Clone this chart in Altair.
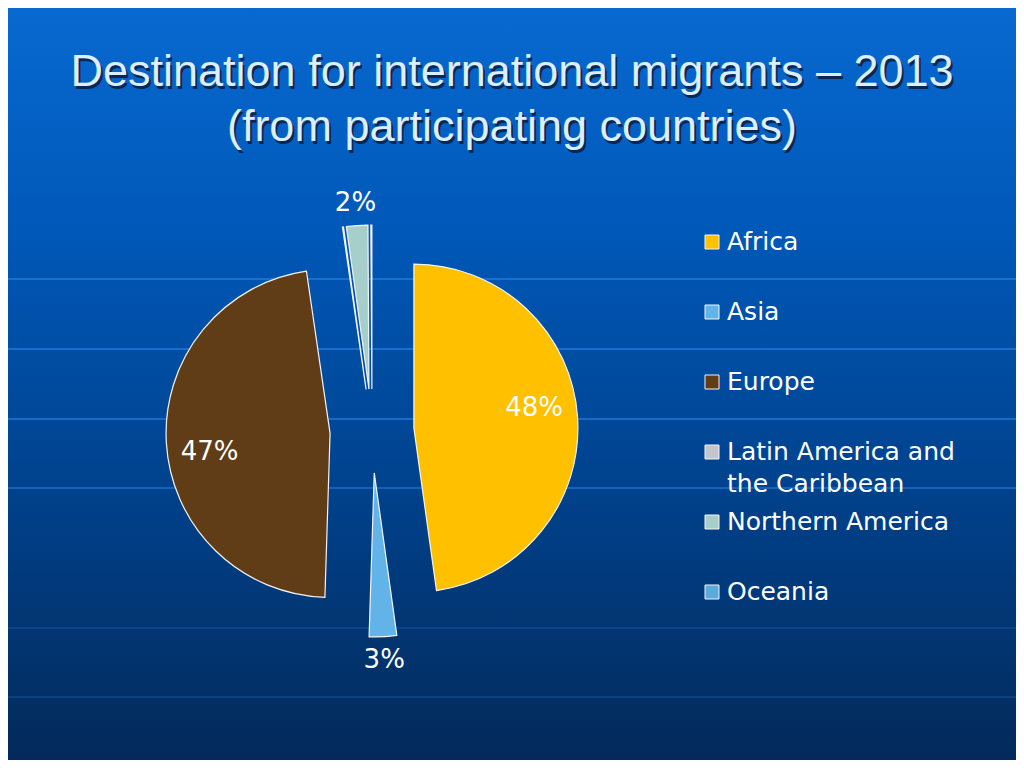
import altair as alt
import pandas as pd

# ---- data ----
regions = ["Africa", "Asia", "Europe", "Latin America and the Caribbean", "Northern America", "Oceania"]
legend_labels = ["Africa", "Asia", "Europe", "Latin America and\nthe Caribbean", "Northern America", "Oceania"]
shares = [47.8, 2.7, 47.2, 0.1, 2.1, 0.1]
colors = ["#FFC000", "#62B4E8", "#603D16", "#C4C4CC", "#A6CECB", "#5AAADC"]
title_lines = ["Destination for international migrants \u2013 2013", "(from participating countries)"]

# ---- layout (style) ----
W, H = 1008, 752
CX, CY = 364, 423          # pie centre inside the canvas
R = 164                    # pie radius
EXPLODE = 42               # explosion distance
LEG_X_SYM, LEG_X_TXT = 340, 355
LEG_TOP, LEG_STEP = 189, 70
LINE_H = 32

df = pd.DataFrame({"region": regions, "legend": legend_labels,
                   "share": shares, "order": list(range(len(regions)))})

xs = alt.Scale(domain=[-CX, W - CX], nice=False, zero=False)
ys = alt.Scale(domain=[-(H - CY), CY], nice=False, zero=False)
cscale = alt.Scale(domain=regions, range=colors)

# background gradient
bg = alt.Chart(pd.DataFrame({"a": [0]})).mark_rect(
    fill=alt.Gradient(
        gradient="linear",
        stops=[alt.GradientStop(color="#0869D0", offset=0),
               alt.GradientStop(color="#0058B8", offset=0.3),
               alt.GradientStop(color="#00438F", offset=0.62),
               alt.GradientStop(color="#032A5A", offset=1)],
        x1=0, x2=0, y1=0, y2=1),
).encode(x=alt.value(0), x2=alt.value(W), y=alt.value(0), y2=alt.value(H))

grid_layers = []
for gy, op in [(271, 0.7), (341, 0.7), (411, 0.7), (480, 0.6), (620, 0.25), (689, 0.25)]:
    grid_layers.append(
        alt.Chart(pd.DataFrame({"a": [0]})).mark_rule(color="#2C8BF0", strokeWidth=1.5, opacity=op)
        .encode(x=alt.value(0), x2=alt.value(W), y=alt.value(gy))
    )

base = (
    alt.Chart(df)
    .transform_joinaggregate(total="sum(share)")
    .transform_window(cum="sum(share)", sort=[alt.SortField("order")], frame=[None, 0])
    .transform_calculate(start="2*PI*(datum.cum - datum.share)/datum.total",
                         end="2*PI*datum.cum/datum.total")
    .transform_calculate(mid="(datum.start + datum.end)/2")
    .transform_calculate(cx=f"{EXPLODE}*sin(datum.mid)", cy=f"{EXPLODE}*cos(datum.mid)")
)

arcs = base.mark_arc(radius=R, stroke="#F4F4F4", strokeWidth=1.2).encode(
    x=alt.X("cx:Q", scale=xs, axis=None),
    y=alt.Y("cy:Q", scale=ys, axis=None),
    theta=alt.Theta("start:Q", scale=None, stack=False),
    theta2="end:Q",
    color=alt.Color("region:N", scale=cscale, legend=None),
)

labels = (
    base.transform_filter("datum.share >= 1")
    .transform_calculate(
        la="datum.mid - (datum.share >= 10 ? 0.1 : 0)",
        lr=f"datum.share >= 10 ? 122 : {R + 23}",
        label="format(datum.share/datum.total, '.0%')",
    )
    .transform_calculate(lx="datum.cx + datum.lr*sin(datum.la)",
                         ly="datum.cy + datum.lr*cos(datum.la)")
    .mark_text(font="DejaVu Sans", fontSize=26, color="white")
    .encode(x=alt.X("lx:Q", scale=xs, axis=None),
            y=alt.Y("ly:Q", scale=ys, axis=None),
            text="label:N")
)

leg_base = alt.Chart(df).transform_calculate(
    ly=f"{LEG_TOP} - {LEG_STEP}*datum.order",
    sx=f"{LEG_X_SYM}", tx=f"{LEG_X_TXT}",
)

leg_sym = leg_base.mark_point(shape="square", filled=True, size=196, stroke="#F4F4F4",
                              strokeWidth=1, opacity=1).encode(
    x=alt.X("sx:Q", scale=xs, axis=None),
    y=alt.Y("ly:Q", scale=ys, axis=None),
    fill=alt.Fill("region:N", scale=cscale, legend=None),
)

leg_txt = leg_base.mark_text(font="DejaVu Sans", fontSize=25, color="white", align="left",
                             baseline="middle", lineBreak="\n", lineHeight=LINE_H).encode(
    x=alt.X("tx:Q", scale=xs, axis=None),
    y=alt.Y("ly:Q", scale=ys, axis=None),
    text="legend:N",
)

title_layers = []
for i, t in enumerate(title_lines):
    yy = 64 + 55 * i
    title_layers.append(
        alt.Chart(pd.DataFrame({"a": [0]})).mark_text(
            text=t, font="Liberation Sans", fontSize=45, color="#0B1E3E", opacity=0.85)
        .encode(x=alt.value(506), y=alt.value(yy + 3))
    )
    title_layers.append(
        alt.Chart(pd.DataFrame({"a": [0]})).mark_text(
            text=t, font="Liberation Sans", fontSize=45, color="#DDEEFF")
        .encode(x=alt.value(504), y=alt.value(yy))
    )

chart = alt.layer(bg, *grid_layers, arcs, labels, leg_sym, leg_txt, *title_layers).properties(
    width=W, height=H, padding=0,
    autosize=alt.AutoSizeParams(type="none"),
    background="#0560C4",
).configure_view(stroke=None)

chart.save("out.html", embed_options={"renderer": "svg", "actions": False})
